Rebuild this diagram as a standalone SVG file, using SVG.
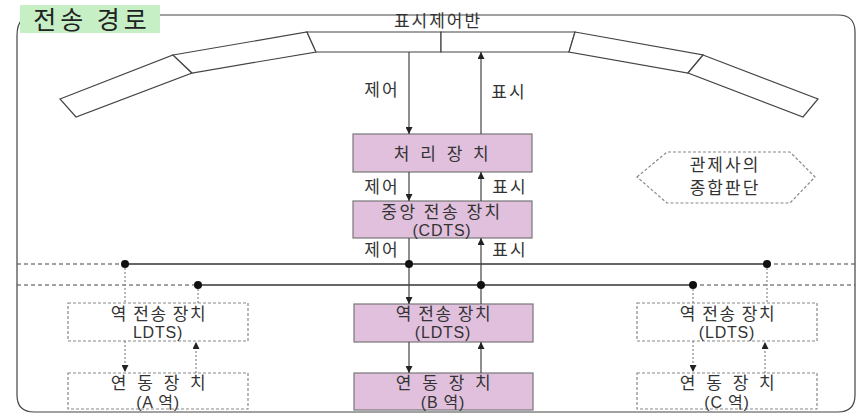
<svg xmlns="http://www.w3.org/2000/svg" width="858" height="414" viewBox="0 0 858 414">
<defs>
<style>
text{font-family:"Noto Sans CJK KR","Noto Sans",sans-serif;fill:#333;text-anchor:middle}
.lbl{font-size:17px;letter-spacing:2px}
.bx{font-size:17px;letter-spacing:1.5px}
.sp{letter-spacing:3.5px}
.lat{font-family:"Liberation Sans","Noto Sans CJK KR",sans-serif;font-size:16px;letter-spacing:0.8px}
.pink{fill:#e0c0dc;stroke:#777;stroke-width:1.2}
.dash{fill:#fff;stroke:#888;stroke-width:1.2;stroke-dasharray:3 2}
.ln{stroke:#444;stroke-width:1.2;fill:none}
.dl{stroke:#888;stroke-width:1.2;fill:none;stroke-dasharray:2 2}
.bus{stroke:#333;stroke-width:1.3;fill:none}
.busd{stroke:#444;stroke-width:1.2;fill:none;stroke-dasharray:4 3}
.pan{fill:#fff;stroke:#444;stroke-width:1.2}
</style>
<marker id="ah" viewBox="0 0 10 10" refX="10" refY="5" markerWidth="7" markerHeight="7" orient="auto-start-reverse" markerUnits="userSpaceOnUse">
<path d="M0,0 L10,5 L0,10 z" fill="#222"/>
</marker>
</defs>
<rect width="858" height="414" fill="#fff"/>
<g id="frame">
<path d="M160,15 H838 Q855,15 855,32 V395 Q855,412 838,412 H34 Q17,412 17,395 V36 Q17,24 22,20" class="ln" stroke="#333"/>
<rect x="20" y="5" width="140" height="28" fill="#c6efc6"/>
<text x="92" y="29" style="font-size:25px;letter-spacing:4px;fill:#222">전송 경로</text>
</g>
<g id="panel">
<polygon class="pan" points="60,99 173,55 192,73 76,117"/>
<polygon class="pan" points="173,55 307,32 316,52 192,73"/>
<polygon class="pan" points="307,32 441,32 441,52 316,52"/>
<polygon class="pan" points="441,32 575,32 569,52 441,52"/>
<polygon class="pan" points="575,32 703,55 688,73 569,52"/>
<polygon class="pan" points="703,55 818,99 803,117 688,73"/>
<text x="438" y="27" style="font-size:17px;letter-spacing:2px">표시제어반</text>
</g>
<g id="judge">
<polygon class="dash" points="637,177 667,152 790,152 815,177 790,203 667,203"/>
<text x="725" y="171" class="lbl">관제사의</text>
<text x="725" y="194" class="lbl">종합판단</text>
</g>
<g id="proc">
<rect class="pink" x="353" y="134" width="179" height="38"/>
<text x="443" y="160" class="bx sp">처 리 장 치</text>
</g>
<g id="cdts">
<rect class="pink" x="353" y="201" width="179" height="37"/>
<text x="442" y="218" class="bx" style="letter-spacing:2.5px">중앙 전송 장치</text>
<text x="442" y="236" class="lat">(CDTS)</text>
</g>
<g id="ldts-a">
<rect class="dash" x="68" y="303" width="180" height="38"/>
<text x="159" y="320" class="bx">역 전송 장치</text>
<text x="158" y="338" class="lat">LDTS)</text>
</g>
<g id="ldts-b">
<rect class="pink" x="354" y="304" width="179" height="38"/>
<text x="444" y="320" class="bx">역 전송 장치</text>
<text x="443" y="338" class="lat">(LDTS)</text>
</g>
<g id="ldts-c">
<rect class="dash" x="637" y="303" width="180" height="38"/>
<text x="728" y="320" class="bx">역 전송 장치</text>
<text x="727" y="338" class="lat">(LDTS)</text>
</g>
<g id="int-a">
<rect class="dash" x="68" y="373" width="180" height="36"/>
<text x="160" y="389" class="bx sp">연 동 장 치</text>
<text x="158" y="408" class="lat">(A 역)</text>
</g>
<g id="int-b">
<rect class="pink" x="354" y="373" width="179" height="37"/>
<text x="445" y="389" class="bx sp">연 동 장 치</text>
<text x="443" y="408" class="lat">(B 역)</text>
</g>
<g id="int-c">
<rect class="dash" x="637" y="373" width="180" height="36"/>
<text x="729" y="389" class="bx sp">연 동 장 치</text>
<text x="727" y="408" class="lat">(C 역)</text>
</g>
<g id="connectors">
<line class="busd" x1="17" y1="264" x2="123" y2="264"/>
<line class="bus" x1="123" y1="264" x2="767" y2="264"/>
<line class="busd" x1="767" y1="264" x2="855" y2="264"/>
<line class="busd" x1="17" y1="285" x2="198" y2="285"/>
<line class="bus" x1="198" y1="285" x2="693" y2="285"/>
<line class="busd" x1="693" y1="285" x2="855" y2="285"/>
<line class="ln" x1="409" y1="52" x2="409" y2="134" marker-end="url(#ah)"/>
<line class="ln" x1="481" y1="134" x2="481" y2="52" marker-end="url(#ah)"/>
<line class="ln" x1="409" y1="172" x2="409" y2="201" marker-end="url(#ah)"/>
<line class="ln" x1="481" y1="201" x2="481" y2="172" marker-end="url(#ah)"/>
<line class="ln" x1="409" y1="238" x2="409" y2="304" marker-end="url(#ah)"/>
<line class="ln" x1="481" y1="304" x2="481" y2="238" marker-end="url(#ah)"/>
<line class="ln" x1="409" y1="342" x2="409" y2="373" marker-end="url(#ah)"/>
<line class="ln" x1="481" y1="373" x2="481" y2="342" marker-end="url(#ah)"/>
<line class="dl" x1="125" y1="264" x2="125" y2="303"/>
<line class="dl" x1="198" y1="285" x2="198" y2="303"/>
<line class="dl" x1="125" y1="341" x2="125" y2="372" marker-end="url(#ah)"/>
<line class="dl" x1="196" y1="373" x2="196" y2="342" marker-end="url(#ah)"/>
<line class="dl" x1="767" y1="264" x2="767" y2="303"/>
<line class="dl" x1="693" y1="285" x2="693" y2="303"/>
<line class="dl" x1="693" y1="341" x2="693" y2="372" marker-end="url(#ah)"/>
<line class="dl" x1="765" y1="373" x2="765" y2="342" marker-end="url(#ah)"/>
<circle cx="125" cy="264" r="4" fill="#111"/>
<circle cx="767" cy="264" r="4" fill="#111"/>
<circle cx="409" cy="264" r="4" fill="#111"/>
<circle cx="198" cy="285" r="4" fill="#111"/>
<circle cx="693" cy="285" r="4" fill="#111"/>
<circle cx="481" cy="285" r="4" fill="#111"/>
<text x="382" y="96" class="lbl">제어</text>
<text x="509" y="98" class="lbl">표시</text>
<text x="382" y="193" class="lbl">제어</text>
<text x="510" y="193" class="lbl">표시</text>
<text x="382" y="256" class="lbl">제어</text>
<text x="510" y="256" class="lbl">표시</text>
</g>
</svg>
